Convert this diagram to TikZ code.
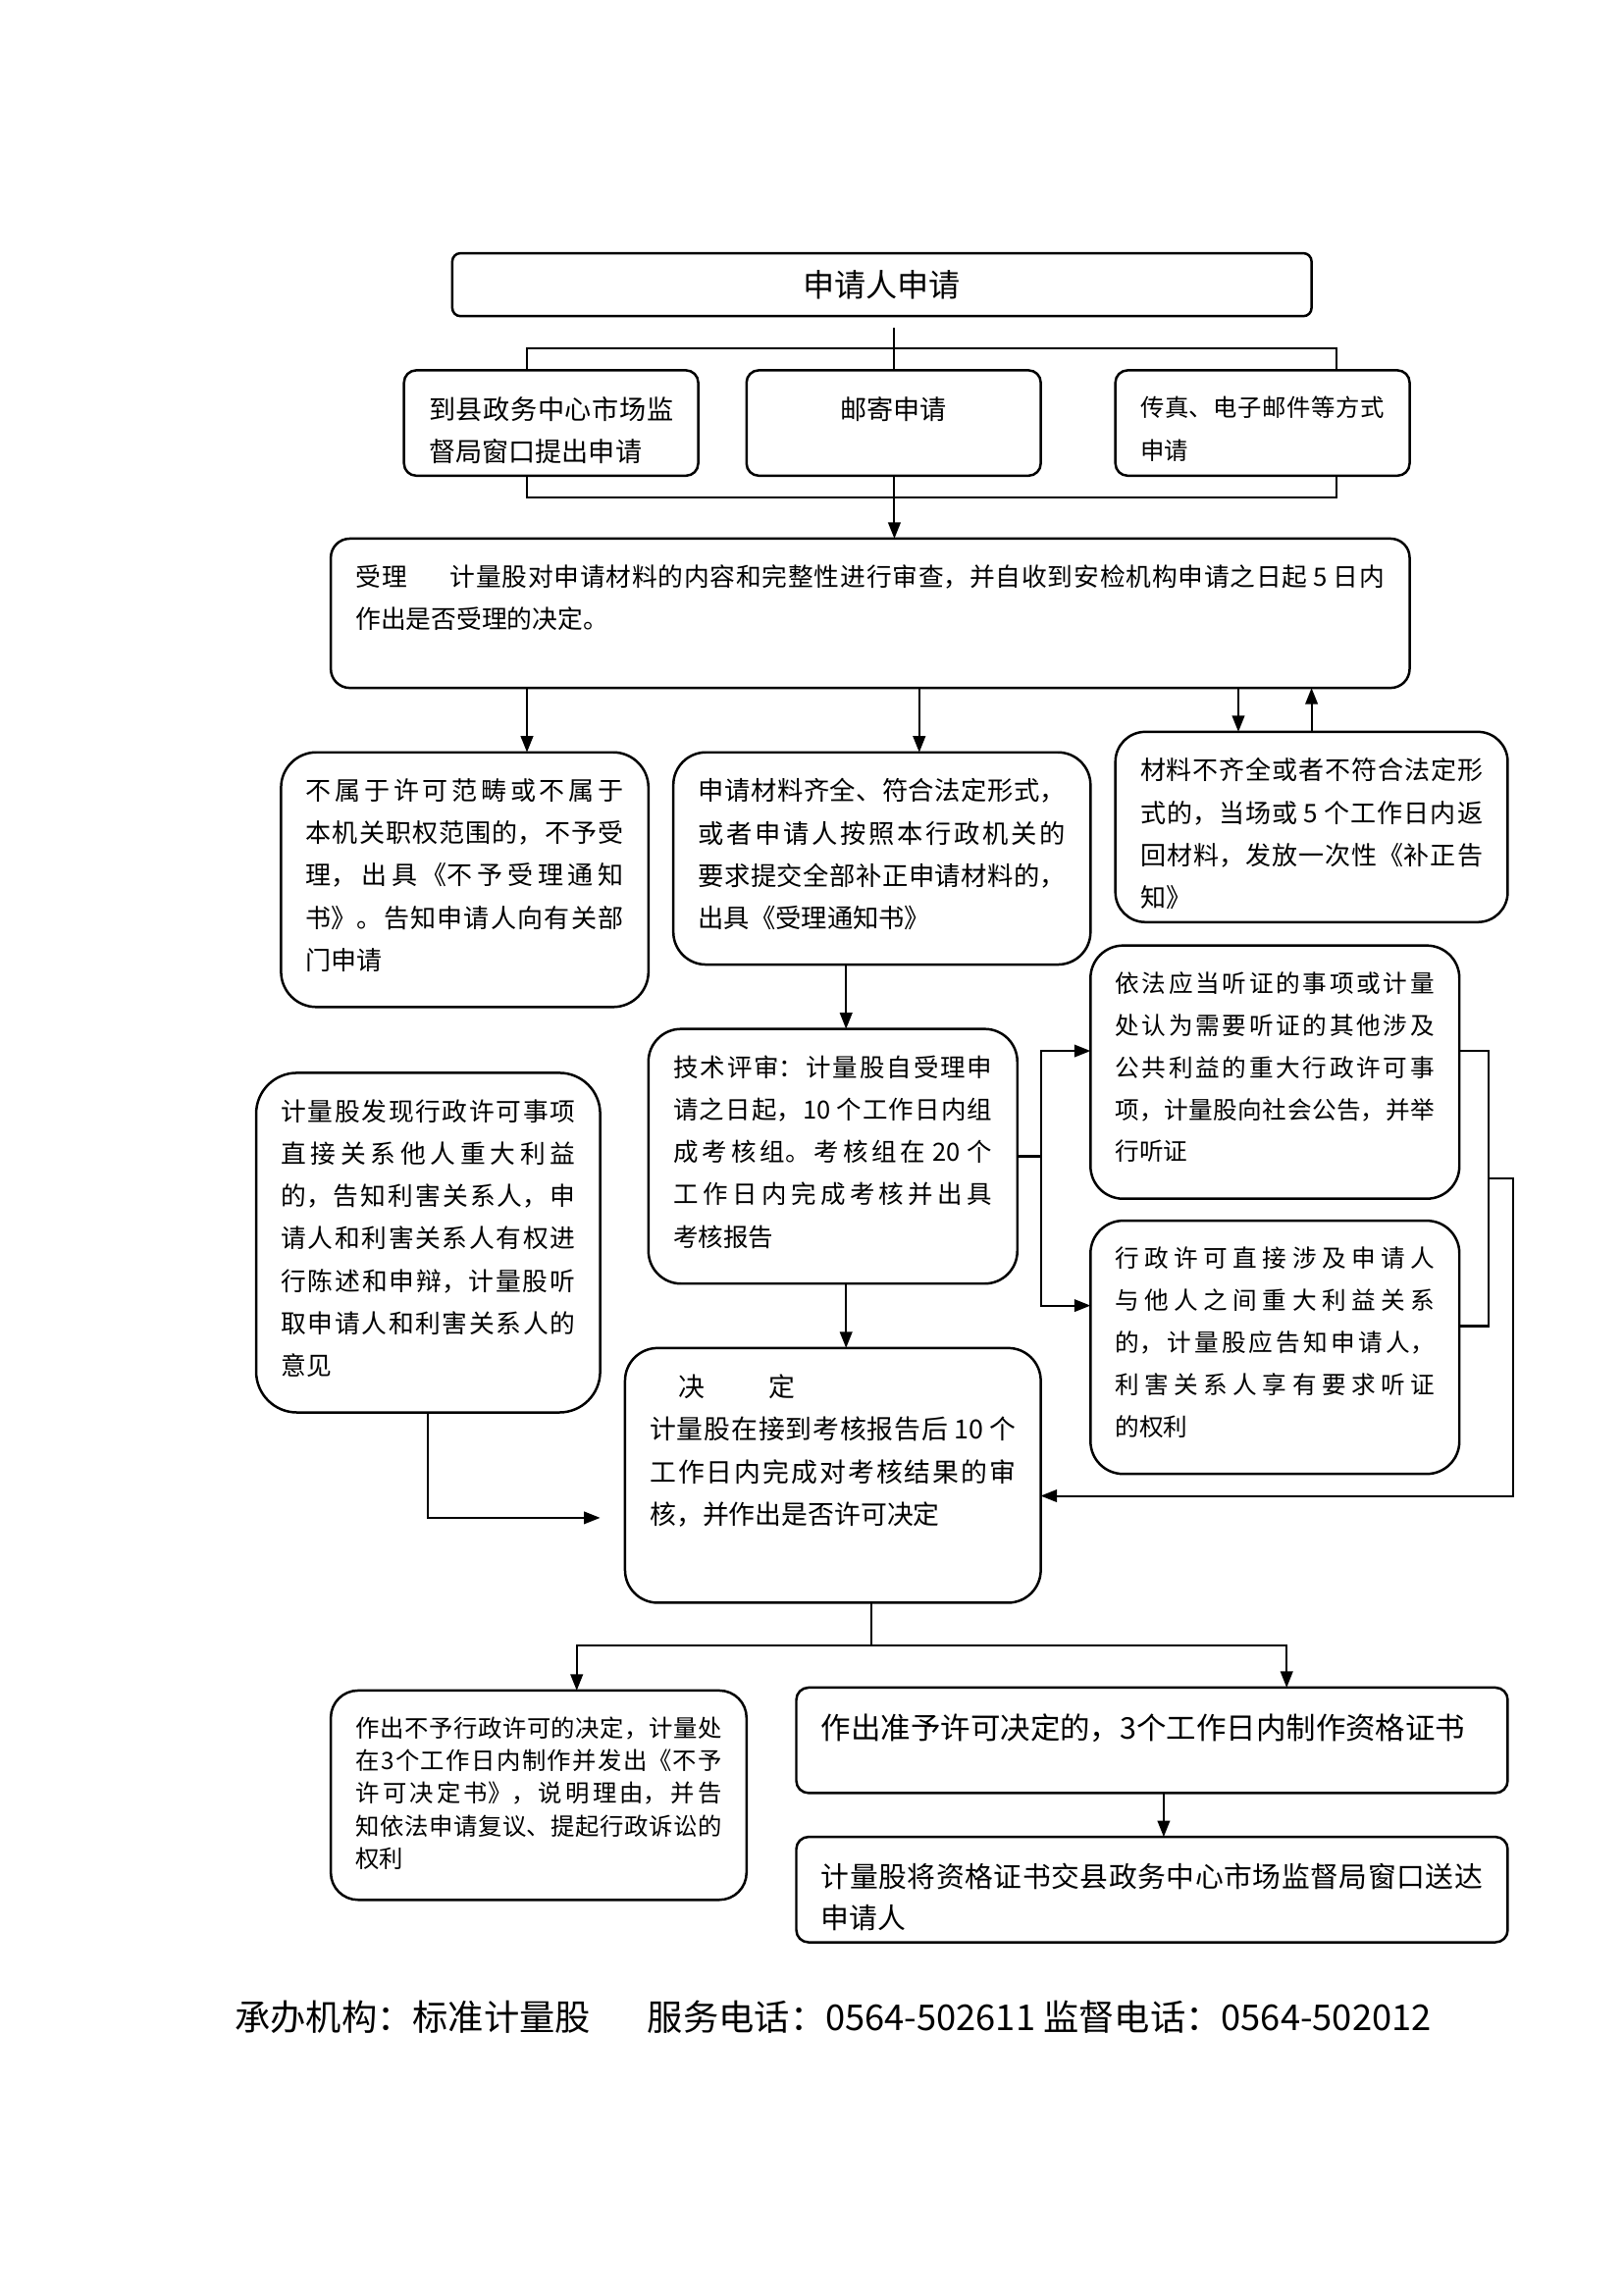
\documentclass[tikz,border=0pt]{standalone}
\usepackage{fontspec}
\setmainfont{Noto Sans CJK SC}
\usepackage{xcolor}
\usepackage{tikz}
\usetikzlibrary{arrows.meta,positioning}
\XeTeXlinebreaklocale "zh"
\XeTeXlinebreakskip=0pt plus 3pt
\definecolor{flInk}{HTML}{000000}
\newlength\pxu
\setlength\pxu{0.18936mm}
\newcommand{\flsize}[2][29]{\fontsize{#2}{#1\pxu}\selectfont}
\newcommand{\flowtext}[3]{\parbox[c][\dimexpr#2\pxu-36\pxu\relax][t]{\dimexpr#1\pxu-34\pxu\relax}{#3}}
\tikzset{
  fl diagram/.style={x=0.18936mm, y=-0.18936mm, text=flInk,
    line cap=butt, line join=miter},
  fl box/.style={draw=flInk, line width=0.9pt, anchor=north west,
    inner xsep=17*\pxu, inner ysep=18*\pxu, outer sep=0pt},
  fl firm/.style={fl box, rounded corners=4.5pt},
  fl soft/.style={fl box, rounded corners=12pt},
  fl title/.style={fl box, rounded corners=3pt, inner sep=0pt,
    minimum width=587*\pxu, minimum height=43*\pxu, font=\flsize{11.6pt}},
  fl line/.style={draw=flInk, line width=0.75pt},
  fl arrow/.style={fl line, -{Triangle[length=2.1mm, width=1.6mm]}},
  fl label/.style={inner sep=0pt, anchor=west}
}
\begin{document}
\begin{tikzpicture}[fl diagram]
\useasboundingbox (0,0) rectangle (1109,1568);
% application
\node[fl title] (apply) at (309,173) {申请人申请};
\node[fl firm, font=\flsize{9.8pt}] (counter) at (276,253)
  {\flowtext{201}{72}{到县政务中心市场监\linebreak 督局窗口提出申请}};
\node[fl firm, font=\flsize{9.8pt}] (post) at (510,253)
  {\flowtext{201}{72}{\centering 邮寄申请}};
\node[fl firm, font=\flsize{8.8pt}] (remote) at (762,253)
  {\flowtext{201}{72}{传真、电子邮件等方式\linebreak 申请}};
% acceptance
\node[fl box, rounded corners=7pt, font=\flsize{9.3pt}] (accept) at (226,368)
  {\flowtext{737}{102}{受理\hspace{1.7em}计量股对申请材料的内容和完整性进行审查，并自收到安检机构申请之日起 5 日内\linebreak 作出是否受理的决定。}};
\node[fl soft, rounded corners=13pt, font=\flsize{9.4pt}] (outscope) at (192,514)
  {\flowtext{251}{174}{不属于许可范畴或不属于\linebreak 本机关职权范围的，不予受\linebreak 理，出具《不予受理通知\linebreak 书》。告知申请人向有关部\linebreak 门申请}};
\node[fl soft, font=\flsize{9.5pt}] (complete) at (460,514)
  {\flowtext{285}{145}{申请材料齐全、符合法定形式，\linebreak 或者申请人按照本行政机关的\linebreak 要求提交全部补正申请材料的，\linebreak 出具《受理通知书》}};
\node[fl soft, rounded corners=11pt, font=\flsize{9.4pt}] (incomplete) at (762,500)
  {\flowtext{268}{130}{材料不齐全或者不符合法定形\linebreak 式的，当场或 5 个工作日内返\linebreak 回材料，发放一次性《补正告\linebreak 知》}};
% review and hearing
\node[fl soft, font=\flsize{9.2pt}] (review) at (443,703)
  {\flowtext{252}{174}{技术评审：计量股自受理申\linebreak 请之日起，10 个工作日内组\linebreak 成考核组。考核组在 20 个\linebreak 工作日内完成考核并出具\linebreak 考核报告}};
\node[fl soft, rounded corners=15pt, font=\flsize{9.3pt}] (interest) at (175,733)
  {\flowtext{235}{232}{计量股发现行政许可事项\linebreak 直接关系他人重大利益\linebreak 的，告知利害关系人，申\linebreak 请人和利害关系人有权进\linebreak 行陈述和申辩，计量股听\linebreak 取申请人和利害关系人的\linebreak 意见}};
\node[fl soft, font={\flsize[28.75]{8.9pt}}] (hearing) at (745,646)
  {\flowtext{252}{173}{依法应当听证的事项或计量\linebreak 处认为需要听证的其他涉及\linebreak 公共利益的重大行政许可事\linebreak 项，计量股向社会公告，并举\linebreak 行听证}};
\node[fl soft, font={\flsize[28.75]{8.9pt}}] (hearingparty) at (745,834)
  {\flowtext{252}{173}{行政许可直接涉及申请人\linebreak 与他人之间重大利益关系\linebreak 的，计量股应告知申请人，\linebreak 利害关系人享有要求听证\linebreak 的权利}};
% decision
\node[fl soft, font=\flsize{9.7pt}] (decide) at (427,921)
  {\flowtext{284}{174}{\hspace*{1.1em}决\hspace{2.4em}定\\计量股在接到考核报告后 10 个\linebreak 工作日内完成对考核结果的审\linebreak 核，并作出是否许可决定}};
\node[fl soft, rounded corners=10pt, font={\flsize[22.3]{8.8pt}}] (refuse) at (226,1155)
  {\flowtext{284}{143}{作出不予行政许可的决定，计量处\linebreak 在3个工作日内制作并发出《不予\linebreak 许可决定书》，说明理由，并告\linebreak 知依法申请复议、提起行政诉讼的\linebreak 权利}};
\node[fl firm, font=\flsize{11pt}] (grant) at (544,1153)
  {\flowtext{486}{72}{作出准予许可决定的，3个工作日内制作资格证书}};
\node[fl firm, font={\flsize[28]{10.4pt}}] (deliver) at (544,1255)
  {\flowtext{486}{72}{计量股将资格证书交县政务中心市场监督局窗口送达\linebreak 申请人}};
\node[fl label, font=\flsize{13.1pt}] (contact) at (160,1378)
  {承办机构：标准计量股\hspace{1.6em}服务电话：0564-502611 监督电话：0564-502012};
% helper points
\foreach \nm/\xx/\yy in {spread/611/224, barTop/360/238, barTopEnd/913/238,
    barLow/360/340, barLowEnd/913/340, dropA/360/490, dropB/628/490,
    dropC/846/490, riseC/896/490, dropE/578/690, hub/711/790,
    merge/1017/805, mergeOut/1034/805, intoDecide/410/1037, fork/595/1124}
  \coordinate (\nm) at (\xx,\yy);
% connectors
\draw[fl line] (spread) -- (spread |- post.north);
\draw[fl line] (counter.north -| barTop) -- (barTop) -- (barTopEnd) -- (remote.north -| barTopEnd);
\draw[fl line] (counter.south -| barLow) -- (barLow) -- (barLowEnd) -- (remote.south -| barLowEnd);
\draw[fl arrow] (post.south -| spread) -- (accept.north -| spread);
\draw[fl arrow] (accept.south -| dropA) -- (outscope.north -| dropA);
\draw[fl arrow] (accept.south -| dropB) -- (complete.north -| dropB);
\draw[fl arrow] (accept.south -| dropC) -- (incomplete.north -| dropC);
\draw[fl arrow] (incomplete.north -| riseC) -- (accept.south -| riseC);
\draw[fl arrow] (complete.south -| dropE) -- (review.north -| dropE);
\draw[fl arrow] (review.south -| dropE) -- (decide.north -| dropE);
\draw[fl line] (review.east |- hub) -- (hub);
\draw[fl arrow] (hub) |- ([yshift=14.5*\pxu]hearing.west);
\draw[fl arrow] (hub) |- ([yshift=28.5*\pxu]hearingparty.west);
\draw[fl line] ([yshift=14.5*\pxu]hearing.east) -| (merge) |- ([yshift=14.5*\pxu]hearingparty.east);
\draw[fl arrow] (merge) -- (mergeOut) |- ([yshift=-14*\pxu]decide.east);
\draw[fl arrow] (interest.south) |- (intoDecide);
\draw[fl line] (decide.south -| fork) -- (fork);
\draw[fl arrow] (fork) -| ([xshift=26*\pxu]refuse.north);
\draw[fl arrow] (fork) -| ([xshift=92*\pxu]grant.north);
\draw[fl arrow] ([xshift=8*\pxu]grant.south) -- ([xshift=8*\pxu]deliver.north);
\end{tikzpicture}
\end{document}
